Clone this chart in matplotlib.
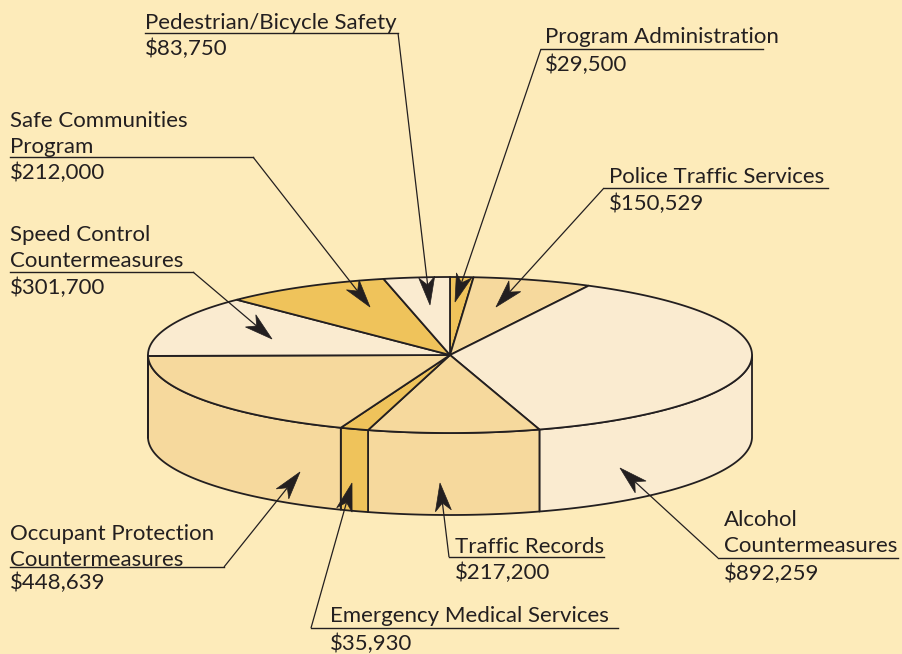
import numpy as np
import matplotlib
matplotlib.use("Agg")
import matplotlib.pyplot as plt
from matplotlib.patches import Polygon

# ---- data (clockwise from 12 o'clock) ----
categories = ["Program Administration", "Police Traffic Services", "Alcohol Countermeasures",
              "Traffic Records", "Emergency Medical Services", "Occupant Protection Countermeasures",
              "Speed Control Countermeasures", "Safe Communities Program", "Pedestrian/Bicycle Safety"]
values = [29500, 150529, 892259, 217200, 35930, 448639, 301700, 212000, 83750]
value_labels = ["$29,500", "$150,529", "$892,259", "$217,200", "$35,930", "$448,639",
                "$301,700", "$212,000", "$83,750"]
label_lines = [["Program Administration"], ["Police Traffic Services"], ["Alcohol", "Countermeasures"],
               ["Traffic Records"], ["Emergency Medical Services"], ["Occupant Protection", "Countermeasures"],
               ["Speed Control", "Countermeasures"], ["Safe Communities", "Program"],
               ["Pedestrian/Bicycle Safety"]]

# ---- style ----
BG = "#FDEBBA"
PALE = "#FAEBD0"
TAN = "#F6D99D"
GOLD = "#EFC35B"
INK = "#231F20"
slice_colors = [GOLD, TAN, PALE, TAN, GOLD, TAN, PALE, GOLD, PALE]
FONT = "Lato"
FS = 16

# label layout: text x, first baseline, underline (x0, x1, y), leader anchor end, arrow tip
layout = {
    0: dict(tx=545, by=43, ul=(541, 763, 49), anchor="left", tip=(455, 302)),
    1: dict(tx=609, by=183, ul=(604, 828, 188), anchor="left", tip=(496, 307)),
    2: dict(tx=724, by=526, ul=(718, 898, 558), anchor="left", tip=(620, 468)),
    3: dict(tx=455, by=553, ul=(449, 604, 557), anchor="left", tip=(440, 483)),
    4: dict(tx=330, by=622, ul=(311, 618, 628), anchor="left", tip=(352, 483)),
    5: dict(tx=10, by=540, ul=(10, 224, 567), anchor="right", tip=(300, 472)),
    6: dict(tx=10, by=241, ul=(10, 193, 272), anchor="right", tip=(272, 339)),
    7: dict(tx=10, by=127, ul=(10, 253, 157), anchor="right", tip=(370, 307)),
    8: dict(tx=145, by=29, ul=(145, 398, 33), anchor="right", tip=(430, 305)),
}
LINE_H = 26

fig = plt.figure(figsize=(9.02, 6.54), dpi=100, facecolor=BG)
ax = fig.add_axes([0, 0, 1, 1])
ax.set_xlim(0, 902)
ax.set_ylim(654, 0)
ax.axis("off")
ax.set_facecolor(BG)

cx, cy, rx, ry, depth = 450, 355, 302, 78, 82


def ell(theta_deg, dy=0.0):
    t = np.radians(theta_deg)
    return cx + rx * np.cos(t), cy - ry * np.sin(t) + dy


total = float(sum(values))
angles = [90.0]
for v in values:
    angles.append(angles[-1] - 360.0 * v / total)

# side faces (visible front half: -180..0 degrees)
for i in range(len(values)):
    a1, a2 = angles[i], angles[i + 1]
    hi, lo = min(a1, 0.0), max(a2, -180.0)
    if hi <= lo:
        continue
    th = np.linspace(hi, lo, 120)
    top = [ell(t) for t in th]
    bot = [ell(t, depth) for t in th[::-1]]
    ax.add_patch(Polygon(top + bot, closed=True, facecolor=slice_colors[i],
                         edgecolor=INK, linewidth=1.3, joinstyle="round", zorder=2))

# top faces
for i in range(len(values)):
    a1, a2 = angles[i], angles[i + 1]
    th = np.linspace(a1, a2, max(4, int(abs(a1 - a2) * 2)))
    pts = [(cx, cy)] + [ell(t) for t in th]
    ax.add_patch(Polygon(pts, closed=True, facecolor=slice_colors[i],
                         edgecolor=INK, linewidth=1.3, joinstyle="round", zorder=3))


def arrow(sx, sy, tx, ty):
    d = np.array([tx - sx, ty - sy], float)
    d /= np.hypot(*d)
    n = np.array([-d[1], d[0]])
    T = np.array([tx, ty], float)
    L, W = 28.0, 8.0
    back = T - L * d
    notch = T - 0.72 * L * d
    ax.plot([sx, notch[0]], [sy, notch[1]], color=INK, lw=0.9, zorder=5,
            solid_capstyle="butt")
    head = [T, back + W * n, notch, back - W * n]
    ax.add_patch(Polygon(head, closed=True, facecolor=INK, edgecolor=INK,
                         linewidth=0.5, zorder=6))


for i, lay in layout.items():
    y = lay["by"]
    for line in label_lines[i]:
        ax.text(lay["tx"], y, line, fontsize=FS, family=FONT, color=INK,
                ha="left", va="baseline", zorder=7)
        y += LINE_H
    x0, x1, uy = lay["ul"]
    ax.plot([x0, x1], [uy, uy], color=INK, lw=1.0, zorder=5)
    ax.text(lay["tx"], uy + 22, value_labels[i], fontsize=FS, family=FONT, color=INK,
            ha="left", va="baseline", zorder=7)
    sx = x0 if lay["anchor"] == "left" else x1
    arrow(sx, uy, *lay["tip"])

fig.savefig("out.png", dpi=100, facecolor=BG)
